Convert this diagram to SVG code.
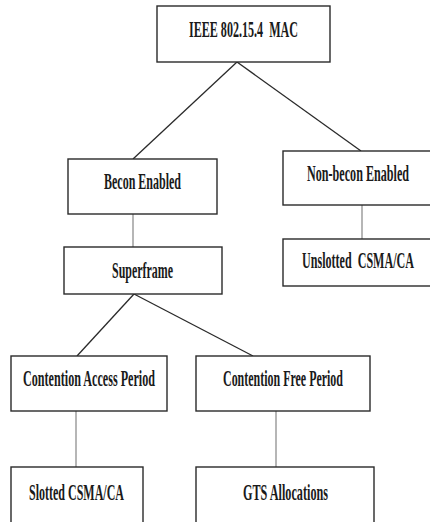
<svg xmlns="http://www.w3.org/2000/svg" width="430" height="522" viewBox="0 0 430 522">
<style>
.box{fill:#fff;stroke:#2a2a2a;stroke-width:1.4}
.t{font-family:"Liberation Serif","Times New Roman",serif;font-weight:bold;font-size:24px;fill:#1a1a1a;text-anchor:middle}
.diag{stroke:#2a2a2a;stroke-width:1.3;fill:none}
.vert{stroke:#7a7a7a;stroke-width:1.1;fill:none}
</style>
<rect width="430" height="522" fill="#fff"/>
<g id="connectors">
<line class="diag" x1="237" y1="62" x2="133" y2="159"/>
<line class="diag" x1="237" y1="62" x2="361" y2="151"/>
<line class="vert" x1="133" y1="214" x2="133" y2="247"/>
<line class="vert" x1="362" y1="205" x2="362" y2="239"/>
<line class="diag" x1="134" y1="294" x2="77" y2="356"/>
<line class="diag" x1="134" y1="294" x2="253" y2="356"/>
<line class="vert" x1="76" y1="411" x2="76" y2="467"/>
<line class="vert" x1="276" y1="411" x2="276" y2="467"/>
</g>
<g id="n-mac"><rect class="box" x="157" y="6" width="173" height="56"/><text class="t" transform="translate(243.5 37) scale(0.5 1)" textLength="218" lengthAdjust="spacingAndGlyphs">IEEE 802.15.4&#160; MAC</text></g>
<g id="n-becon"><rect class="box" x="68" y="159" width="149" height="55"/><text class="t" transform="translate(142.5 189) scale(0.5 1)" textLength="154" lengthAdjust="spacingAndGlyphs">Becon Enabled</text></g>
<g id="n-nonbecon"><rect class="box" x="283" y="151" width="150" height="54"/><text class="t" transform="translate(358 181) scale(0.5 1)" textLength="204" lengthAdjust="spacingAndGlyphs">Non-becon Enabled</text></g>
<g id="n-unslotted"><rect class="box" x="283" y="239" width="150" height="47"/><text class="t" transform="translate(358 268) scale(0.5 1)" textLength="224" lengthAdjust="spacingAndGlyphs">Unslotted&#160; CSMA/CA</text></g>
<g id="n-superframe"><rect class="box" x="64" y="247" width="158" height="47"/><text class="t" transform="translate(142.5 278) scale(0.5 1)" textLength="122" lengthAdjust="spacingAndGlyphs">Superframe</text></g>
<g id="n-cap"><rect class="box" x="11" y="356" width="156" height="55"/><text class="t" transform="translate(89 386) scale(0.5 1)" textLength="264" lengthAdjust="spacingAndGlyphs">Contention Access Period</text></g>
<g id="n-cfp"><rect class="box" x="196" y="356" width="174" height="55"/><text class="t" transform="translate(283 386) scale(0.5 1)" textLength="240" lengthAdjust="spacingAndGlyphs">Contention Free Period</text></g>
<g id="n-slotted"><rect class="box" x="11" y="467" width="132" height="60"/><text class="t" transform="translate(76.5 500) scale(0.5 1)" textLength="190" lengthAdjust="spacingAndGlyphs">Slotted CSMA/CA</text></g>
<g id="n-gts"><rect class="box" x="196" y="467" width="178" height="60"/><text class="t" transform="translate(285.5 500) scale(0.5 1)" textLength="170" lengthAdjust="spacingAndGlyphs">GTS Allocations</text></g>
</svg>
